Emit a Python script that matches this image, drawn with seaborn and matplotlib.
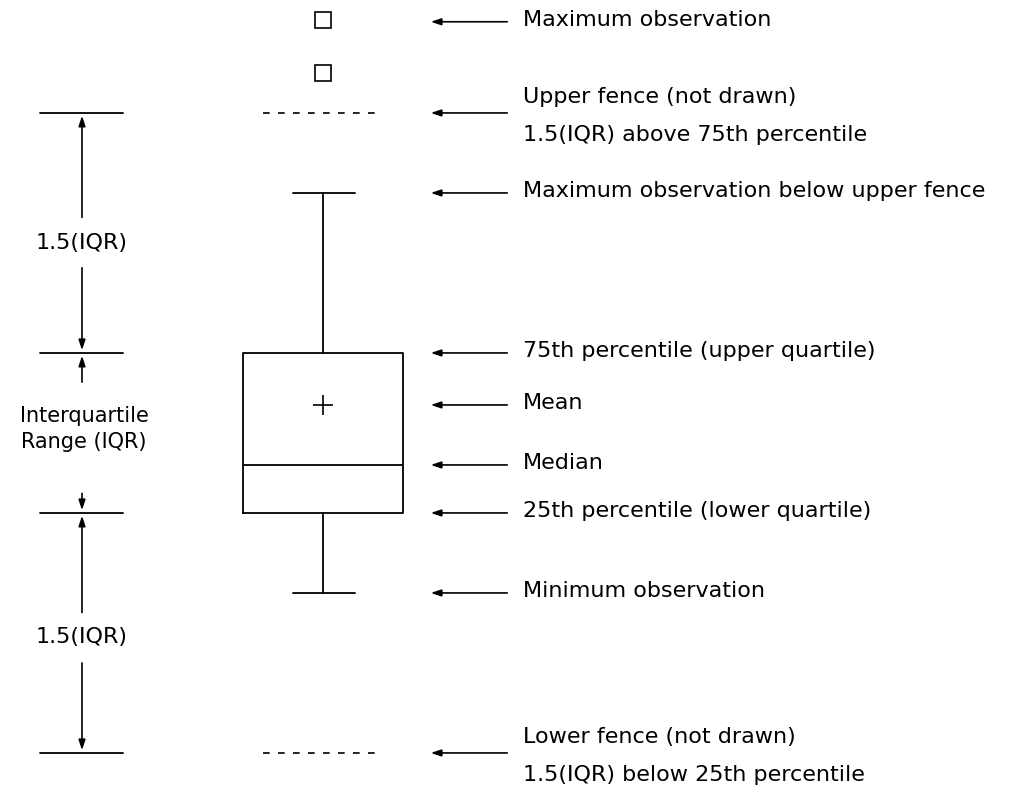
import numpy as np
import matplotlib
matplotlib.use("Agg")
import matplotlib.pyplot as plt
import seaborn as sns

# box statistics (arbitrary value units)
q1, q3 = 10.0, 20.0
median = 13.0
mean = 16.75
whisker_lo, whisker_hi = 5.0, 30.0
outliers = [37.5, 40.8]
iqr = q3 - q1
fence_hi = q3 + 1.5 * iqr
fence_lo = q1 - 1.5 * iqr

labels = [
    (40.7, ["Maximum observation"]),
    (fence_hi, ["Upper fence (not drawn)", "1.5(IQR) above 75th percentile"]),
    (whisker_hi, ["Maximum observation below upper fence"]),
    (q3, ["75th percentile (upper quartile)"]),
    (mean, ["Mean"]),
    (median, ["Median"]),
    (q1, ["25th percentile (lower quartile)"]),
    (whisker_lo, ["Minimum observation"]),
    (fence_lo, ["Lower fence (not drawn)", "1.5(IQR) below 25th percentile"]),
]

sns.set_style("white")
plt.rcParams["font.family"] = ["DejaVu Sans"]
plt.rcParams["text.color"] = "black"
fs = 16
fig = plt.figure(figsize=(10.26, 7.92), dpi=100)
ax = fig.add_axes([0, 0, 1, 1])
ax.set_xlim(0, 1026)
ax.set_ylim(-7.44, 42.06)
ax.axis("off")

stats = [dict(med=median, q1=q1, q3=q3, whislo=whisker_lo, whishi=whisker_hi,
              mean=mean, fliers=outliers)]
lw = 1.3
ax.bxp(stats, positions=[323], widths=160, showmeans=True, showcaps=True,
       boxprops=dict(color="black", lw=lw), whiskerprops=dict(color="black", lw=lw),
       capprops=dict(color="black", lw=lw), medianprops=dict(color="black", lw=lw),
       meanprops=dict(marker="+", markeredgecolor="black", markersize=14, mew=1.2),
       flierprops=dict(marker="s", markerfacecolor="white", markeredgecolor="black",
                       markersize=11, mew=1.2),
       manage_ticks=False)
# widen the caps a little
for c in ax.lines:
    x = c.get_xdata()
    if len(x) == 2 and x[0] != x[1] and abs(x[1] - x[0]) < 100:
        c.set_xdata([293, 355])

# fences (not drawn)
for f in [fence_hi, fence_lo]:
    ax.plot([263, 383], [f, f], color="black", ls=(0, (4, 5)), lw=1.2)

# left bracket lines
for v in [fence_hi, q3, q1, fence_lo]:
    ax.plot([40, 123], [v, v], color="black", lw=lw)

aprops = dict(arrowstyle="-|>,head_length=0.6,head_width=0.2", color="black", lw=1.2)
ups = [(fence_hi, 28.3), (q3, 18.0), (q1, 3.6)]
downs = [(q3, 25.5), (q1, 11.4), (fence_lo, 0.8)]
for tip, start in ups + downs:
    ax.annotate("", xy=(82, tip), xytext=(82, start), arrowprops=aprops)
ax.text(82, 26.9, "1.5(IQR)", ha="center", va="center", fontsize=fs)
ax.text(82, 2.25, "1.5(IQR)", ha="center", va="center", fontsize=fs)
ax.text(84, 15.25, "Interquartile\nRange (IQR)", ha="center", va="center",
        fontsize=fs - 1, linespacing=1.4)

# right annotations
for v, txt in labels:
    ax.annotate("", xy=(428, v), xytext=(510, v), arrowprops=aprops)
    if len(txt) == 1:
        ax.text(523, v + 0.1, txt[0], ha="left", va="center", fontsize=fs)
    else:
        ax.text(523, v + 1.0, txt[0], ha="left", va="center", fontsize=fs)
        ax.text(523, v - 1.4, txt[1], ha="left", va="center", fontsize=fs)

fig.savefig("out.png", dpi=100)
